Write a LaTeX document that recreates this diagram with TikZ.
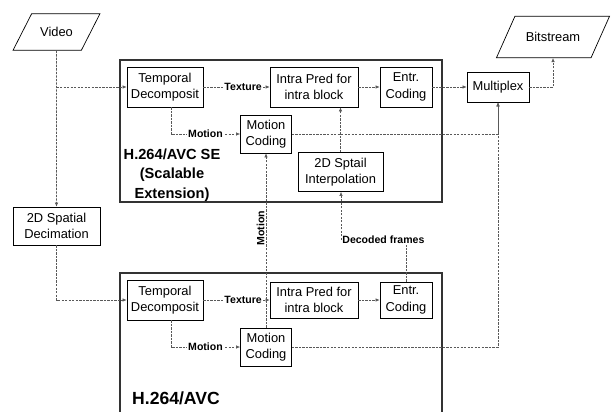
\documentclass[tikz,border=0pt]{standalone}
\usepackage{fontspec}
\setmainfont{Liberation Sans}
\usetikzlibrary{shapes.geometric,arrows.meta}
\begin{document}
\begin{tikzpicture}[x=0.3mm, y=-0.3mm,
  blk/.style={draw, line width=0.6pt, align=center, inner sep=0pt, font=\fontsize{11}{14}\selectfont},
  io/.style={draw, line width=0.6pt, trapezium, trapezium stretches body=true, inner xsep=0pt, font=\fontsize{11}{14}\selectfont},
  lbl/.style={font=\bfseries\fontsize{9}{10}\selectfont, fill=white, inner sep=1pt},
  link/.style={draw=black!65, line width=0.5pt, dash pattern=on 2pt off 1pt, -{Latex[length=3.5pt,width=3pt]}},
  line/.style={draw=black!65, line width=0.5pt, dash pattern=on 2pt off 1pt}]
\useasboundingbox (0,0) rectangle (612,412);
% the two layers
\draw[line width=0.9pt, black!80] (120,60) rectangle (442,202);
\draw[line width=0.9pt, black!80] (120,412) -- (120,273) -- (442,273) -- (442,412);
\node[font=\bfseries\fontsize{12.5}{16.5}\selectfont, align=center] (se) at (172,175) {H.264/AVC SE\\(Scalable\\Extension)};
\node[font=\bfseries\fontsize{15}{18}\selectfont] (avc) at (176,398) {H.264/AVC};
% input and output
\node[io, trapezium left angle=63, trapezium right angle=117, minimum width=26.1mm, inner ysep=11.6pt] (video) at (56.5,32) {Video};
\node[io, trapezium left angle=66, trapezium right angle=114, minimum width=33.9mm, inner ysep=13.6pt] (bit) at (553,37) {Bitstream};
% enhancement layer
\node[blk, minimum width=22.8mm, minimum height=12mm] (tdu) at (165,87) {Temporal\\Decomposit};
\node[blk, minimum width=26.4mm, minimum height=12mm] (ipu) at (314,87) {Intra Pred for\\intra block};
\node[blk, minimum width=15.6mm, minimum height=12mm] (ecu) at (406,87) {Entr.\\Coding};
\node[blk, minimum width=18.6mm, minimum height=9mm] (mux) at (498,87) {Multiplex};
\node[blk, minimum width=15.3mm, minimum height=11.4mm] (mcu) at (266,134) {Motion\\Coding};
\node[blk, minimum width=25.5mm, minimum height=11.7mm] (itp) at (340.5,172) {2D Sptail\\Interpolation};
\node[blk, minimum width=26.1mm, minimum height=11.4mm] (deci) at (56.5,226) {2D Spatial\\Decimation};
% base layer
\node[blk, minimum width=22.8mm, minimum height=12mm] (tdl) at (165,300) {Temporal\\Decomposit};
\node[blk, minimum width=26.4mm, minimum height=10.8mm] (ipl) at (314,300) {Intra Pred for\\intra block};
\node[blk, minimum width=15.6mm, minimum height=10.8mm] (ecl) at (406,300) {Entr.\\Coding};
\node[blk, minimum width=15.3mm, minimum height=11.4mm] (mcl) at (266,347) {Motion\\Coding};
\node[lbl, anchor=west] (dec) at (341,240) {Decoded frames};
% connections
\draw[link] (video.south) -- (deci.north);
\draw[link] (video.south |- tdu.west) -- (tdu.west);
\draw[link] (deci.south) |- (tdl.west);
\draw[link] (tdu.east) -- node[lbl, pos=0.6] {Texture} (ipu.west);
\draw[link] ([xshift=5pt]tdu.south) |- node[lbl, pos=0.75] {Motion} (mcu.west);
\draw[link] (ipu.east) -- (ecu.west);
\draw[link] (ecu.east) -- (mux.west);
\draw[link] (mux.east) -| (bit.south);
\draw[link] (mcu.east) -| (mux.south);
\draw[link] (itp.north) -- (itp.north |- ipu.south);
\draw[link] (tdl.east) -- node[lbl, pos=0.6] {Texture} (ipl.west);
\draw[link] ([xshift=5pt]tdl.south) |- node[lbl, pos=0.75] {Motion} (mcl.west);
\draw[link] (ipl.east) -- (ecl.west);
\draw[link] (mcl.east) -| (mux.south);
\draw[link] (mcl.north) -- node[lbl, pos=0.57, rotate=90, anchor=south, fill=none] {Motion} (mcu.south);
\draw[line] (ecl.north) -- (ecl.north |- dec.south);
\draw[link] (dec.west) -- (dec.west |- itp.south);
\end{tikzpicture}
\end{document}
